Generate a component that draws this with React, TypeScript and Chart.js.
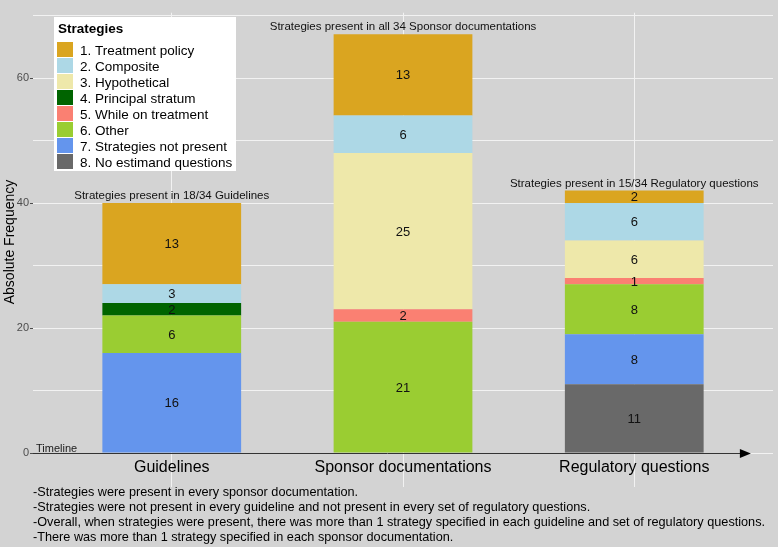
import React, { useEffect, useRef } from 'react';
import { Chart, registerables } from 'chart.js';

Chart.register(...registerables);

// ---------- data ----------
const categories = ['Guidelines', 'Sponsor documentations', 'Regulatory questions'];
const categoryPositions = [1, 2, 3];

const strategies = [
  '1. Treatment policy',
  '2. Composite',
  '3. Hypothetical',
  '4. Principal stratum',
  '5. While on treatment',
  '6. Other',
  '7. Strategies not present',
  '8. No estimand questions',
];
const strategyColors = [
  '#DAA520',
  '#ADD8E6',
  '#EEE8AA',
  '#006400',
  '#FA8072',
  '#9ACD32',
  '#6495ED',
  '#696969',
];

const treatmentPolicy = [13, 13, 2];
const composite = [3, 6, 6];
const hypothetical = [0, 25, 6];
const principalStratum = [2, 0, 0];
const whileOnTreatment = [0, 2, 1];
const other = [6, 21, 8];
const notPresent = [16, 0, 8];
const noEstimand = [0, 0, 11];

const seriesValues = [
  treatmentPolicy,
  composite,
  hypothetical,
  principalStratum,
  whileOnTreatment,
  other,
  notPresent,
  noEstimand,
];

const barCaptions = [
  'Strategies present in 18/34 Guidelines',
  'Strategies present in all 34 Sponsor documentations',
  'Strategies present in 15/34 Regulatory questions',
];

const notes = [
  '-Strategies were present in every sponsor documentation.',
  '-Strategies were not present in every guideline and not present in every set of regulatory questions.',
  '-Overall, when strategies were present, there was more than 1 strategy specified in each guideline and set of regulatory questions.',
  '-There was more than 1 strategy specified in each sponsor documentation.',
];

const yTickLabels = [0, 20, 40, 60];
const yAxisTitle = 'Absolute Frequency';
const legendTitle = 'Strategies';
const timelineLabel = 'Timeline';

// ---------- styling ----------
const FONT = "'Liberation Sans', Arial, sans-serif";
const BG = '#D3D3D3';
const GRID = '#F2F2F2';

const decorPlugin = {
  id: 'decor',
  beforeDraw(chart: any) {
    const ctx = chart.ctx;
    ctx.save();
    ctx.fillStyle = BG;
    ctx.fillRect(0, 0, chart.width, chart.height);
    ctx.restore();
  },
  afterDatasetsDraw(chart: any) {
    const ctx = chart.ctx;
    const xs = chart.scales.x;
    const ys = chart.scales.y;
    ctx.save();

    // segment value labels
    ctx.font = `13px ${FONT}`;
    ctx.fillStyle = '#111111';
    ctx.textAlign = 'center';
    ctx.textBaseline = 'middle';
    chart.data.datasets.forEach((ds: any, di: number) => {
      const meta = chart.getDatasetMeta(di);
      meta.data.forEach((el: any, j: number) => {
        const v = ds.data[j].y;
        if (!v) return;
        ctx.fillText(String(v), el.x, (el.y + el.base) / 2 + 1);
      });
    });

    // captions above bars
    ctx.font = `11.5px ${FONT}`;
    ctx.textBaseline = 'alphabetic';
    categoryPositions.forEach((pos, j) => {
      const total = seriesValues.reduce((s, arr) => s + arr[j], 0);
      ctx.fillText(barCaptions[j], xs.getPixelForValue(pos), ys.getPixelForValue(total) - 4);
    });

    // y axis title
    ctx.save();
    ctx.translate(14, 242);
    ctx.rotate(-Math.PI / 2);
    ctx.font = `14px ${FONT}`;
    ctx.fillStyle = '#000000';
    ctx.textAlign = 'center';
    ctx.textBaseline = 'alphabetic';
    ctx.fillText(yAxisTitle, 0, 0);
    ctx.restore();

    // y tick mark at zero (kept visible next to the timeline)
    const y0 = Math.round(ys.getPixelForValue(0)) + 0.5;
    ctx.strokeStyle = '#4D4D4D';
    ctx.lineWidth = 1;
    ctx.beginPath();
    ctx.moveTo(ys.right - 3, y0);
    ctx.lineTo(ys.right, y0);
    ctx.stroke();

    // timeline arrow
    const xStart = xs.getPixelForValue(0.4);
    const xEnd = xs.getPixelForValue(3.5);
    ctx.strokeStyle = '#333333';
    ctx.beginPath();
    ctx.moveTo(xStart, y0);
    ctx.lineTo(xEnd - 8, y0);
    ctx.stroke();
    ctx.fillStyle = '#000000';
    ctx.beginPath();
    ctx.moveTo(xEnd + 1, y0);
    ctx.lineTo(xEnd - 10, y0 - 4.5);
    ctx.lineTo(xEnd - 10, y0 + 4.5);
    ctx.closePath();
    ctx.fill();

    // Timeline label
    ctx.fillStyle = '#1A1A1A';
    ctx.font = `11px ${FONT}`;
    ctx.textAlign = 'left';
    ctx.fillText(timelineLabel, xStart + 3, y0 - 2);

    // category labels
    ctx.font = `16px ${FONT}`;
    ctx.textAlign = 'center';
    ctx.fillStyle = '#000000';
    categoryPositions.forEach((pos, j) => {
      ctx.fillText(categories[j], xs.getPixelForValue(pos), y0 + 18);
    });

    // notes
    ctx.font = `12.7px ${FONT}`;
    ctx.textAlign = 'left';
    ctx.textBaseline = 'middle';
    notes.forEach((n, i) => {
      ctx.fillText(n, xStart, 492 + i * 15);
    });

    // legend
    const lx = 54, ly = 17, lw = 182, lh = 154;
    ctx.fillStyle = '#FFFFFF';
    ctx.fillRect(lx, ly, lw, lh);
    ctx.fillStyle = '#000000';
    ctx.font = `bold 13.5px ${FONT}`;
    ctx.textBaseline = 'alphabetic';
    ctx.fillText(legendTitle, lx + 4, ly + 16);
    ctx.font = `13.5px ${FONT}`;
    strategies.forEach((s, i) => {
      const ry = ly + 25 + i * 16;
      ctx.fillStyle = strategyColors[i];
      ctx.fillRect(lx + 3, ry, 16, 15);
      ctx.fillStyle = '#000000';
      ctx.fillText(s, lx + 26, ry + 12.5);
    });

    ctx.restore();
  },
};

export default function App() {
  const canvasRef = useRef<HTMLCanvasElement | null>(null);

  useEffect(() => {
    document.body.style.margin = '0';
    document.body.style.background = BG;
    const canvas = canvasRef.current;
    if (!canvas) return;

    // bottom of stack = last strategy
    const order = strategies.map((_, i) => strategies.length - 1 - i);
    const datasets = order.map((i) => ({
      label: strategies[i],
      data: categoryPositions.map((x, j) => ({ x, y: seriesValues[i][j] })),
      backgroundColor: strategyColors[i],
      borderWidth: 0,
      categoryPercentage: 0.6,
      barPercentage: 1,
      stack: 'all',
    }));

    const chart = new Chart(canvas, {
      type: 'bar',
      data: { datasets },
      options: {
        responsive: false,
        animation: false,
        devicePixelRatio: 1,
        layout: { padding: { top: 12.7, right: 5, bottom: 60, left: 0 } },
        plugins: {
          legend: { display: false },
          tooltip: { enabled: false },
        },
        scales: {
          x: {
            type: 'linear',
            min: 0.4,
            max: 3.6,
            offset: false,
            stacked: true,
            ticks: { display: false, stepSize: 1, includeBounds: false },
            grid: { color: GRID, lineWidth: 1, drawTicks: false, offset: false },
            border: { display: false },
            afterFit: (s: any) => {
              s.height = 0;
            },
          },
          y: {
            type: 'linear',
            min: -5.44,
            max: 70.45,
            stacked: true,
            ticks: {
              stepSize: 10,
              includeBounds: false,
              padding: 1,
              color: '#4D4D4D',
              font: { family: FONT, size: 11 },
              callback: (v: any) => (yTickLabels.includes(Number(v)) ? String(v) : ''),
            },
            grid: {
              color: (c: any) => (c.tick && c.tick.value < 0 ? 'rgba(0,0,0,0)' : GRID),
              lineWidth: 1,
              tickLength: 3,
              tickColor: (c: any) =>
                c.tick && yTickLabels.includes(c.tick.value) ? '#4D4D4D' : 'rgba(0,0,0,0)',
            },
            border: { display: false },
            title: { display: false },
            afterFit: (s: any) => {
              s.width = 33;
            },
          },
        },
      } as any,
      plugins: [decorPlugin],
    });

    return () => chart.destroy();
  }, []);

  return (
    <div style={{ width: 778, height: 547, background: BG }}>
      <canvas ref={canvasRef} width={778} height={547} style={{ display: 'block' }} />
    </div>
  );
}
